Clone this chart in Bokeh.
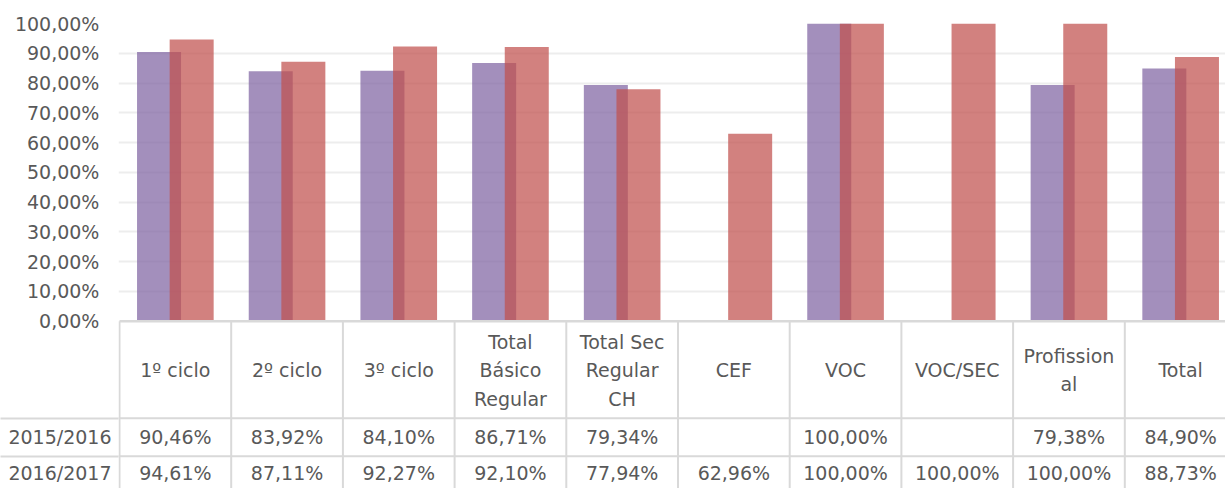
from bokeh.plotting import figure
from bokeh.models import Range1d, FixedTicker, ColumnDataSource
from bokeh.core.properties import value
from bokeh.embed import file_html
from bokeh.resources import INLINE

# ---------------- data ----------------
categories = ["1º ciclo", "2º ciclo", "3º ciclo", "Total Básico Regular",
              "Total Sec Regular CH", "CEF", "VOC", "VOC/SEC", "Profissional", "Total"]
header_labels = ["1º ciclo", "2º ciclo", "3º ciclo", "Total\nBásico\nRegular",
                 "Total Sec\nRegular\nCH", "CEF", "VOC", "VOC/SEC", "Profission\nal", "Total"]
series_names = ["2015/2016", "2016/2017"]
s2015 = [90.46, 83.92, 84.10, 86.71, 79.34, None, 100.00, None, 79.38, 84.90]
s2016 = [94.61, 87.11, 92.27, 92.10, 77.94, 62.96, 100.00, 100.00, 100.00, 88.73]
y_ticks = [0, 10, 20, 30, 40, 50, 60, 70, 80, 90, 100]
y_tick_labels = ["0,00%", "10,00%", "20,00%", "30,00%", "40,00%", "50,00%",
                 "60,00%", "70,00%", "80,00%", "90,00%", "100,00%"]

# ---------------- layout constants ----------------
W, H = 1225, 488
LEFT = 118            # frame left border (px)
TOP = 23              # frame top border (px) -> 100 %
CAT = 111.7           # category width (px)
PXP = 2.977           # px per percentage point
FONT = "DejaVu Sans"
FSIZE = "19px"
TXT = "#595959"
LINE = "#D9D9D9"
PURPLE = "#8064A2"
RED = "#C0504D"
ALPHA = 0.72
OFF = 0.146
BW = 0.394
NBSP = "\u00a0"

n = len(categories)
x_start = -1.0 / CAT
x_end = x_start + (W - LEFT) / CAT
y_end = 100
y_start = 100 - (H - TOP) / PXP


def ty(px):
    """table position given in px below the 0 % line -> y data units"""
    return round(-px / PXP, 2)


def fmt(v):
    return "" if v is None else ("%.2f%%" % v).replace(".", ",")


def nanify(vals):
    return [float("nan") if v is None else v for v in vals]


HEADER_Y = ty(49)
ROW_Y = [ty(116), ty(152)]
ROW_SEP = [ty(97), ty(135)]
BOTTOM = y_start

p = figure(width=W, height=H, output_backend="svg", toolbar_location=None,
           x_range=Range1d(x_start, x_end), y_range=Range1d(y_start, y_end),
           x_axis_location=None, min_border_left=LEFT, min_border_right=0,
           min_border_top=TOP, min_border_bottom=0)
p.outline_line_color = None
p.xgrid.visible = False
p.ygrid.ticker = FixedTicker(ticks=y_ticks[1:])
p.ygrid.grid_line_color = "#EDEDED"
p.ygrid.grid_line_width = 2

# y axis: percentage ticks + data-table row labels; minor ticks draw the row borders
ax = p.yaxis[0]
ax.ticker = FixedTicker(ticks=y_ticks + ROW_Y, minor_ticks=ROW_SEP)
overrides = {t: l + NBSP * 2 for t, l in zip(y_ticks, y_tick_labels)}
overrides.update({t: s for t, s in zip(ROW_Y, series_names)})
ax.major_label_overrides = overrides
ax.axis_line_color = None
ax.major_tick_line_color = None
ax.major_tick_out = 0
ax.major_tick_in = 0
ax.minor_tick_line_color = LINE
ax.minor_tick_line_width = 2
ax.minor_tick_out = LEFT
ax.minor_tick_in = 0
ax.major_label_standoff = 7 - LEFT
ax.major_label_text_font = FONT
ax.major_label_text_font_size = FSIZE
ax.major_label_text_color = TXT

# bars
src1 = ColumnDataSource(dict(x=[i + 0.5 - OFF for i in range(n)], top=nanify(s2015)))
src2 = ColumnDataSource(dict(x=[i + 0.5 + OFF for i in range(n)], top=nanify(s2016)))
p.vbar(x="x", top="top", bottom=0, width=BW, source=src1,
       fill_color=PURPLE, fill_alpha=ALPHA, line_color=None)
p.vbar(x="x", top="top", bottom=0, width=BW, source=src2,
       fill_color=RED, fill_alpha=ALPHA, line_color=None)

# data table borders
p.segment(x0=list(range(n + 1)), y0=[0] * (n + 1), x1=list(range(n + 1)), y1=[BOTTOM] * (n + 1),
          line_color=LINE, line_width=2)
p.segment(x0=[x_start] * 2, y0=ROW_SEP, x1=[x_end] * 2, y1=ROW_SEP,
          line_color=LINE, line_width=2)
p.segment(x0=[0], y0=[0], x1=[x_end], y1=[0], line_color=LINE, line_width=2.5)

# header texts
p.text(x=[i + 0.5 for i in range(n)], y=[HEADER_Y] * n, text=header_labels,
       text_font=value(FONT), text_font_size=FSIZE, text_color=TXT,
       text_align="center", text_baseline="middle", text_line_height=1.3)

# values
for vals, yy in zip([s2015, s2016], ROW_Y):
    p.text(x=[i + 0.5 for i in range(n)], y=[yy] * n, text=[fmt(v) for v in vals],
           text_font=value(FONT), text_font_size=FSIZE, text_color=TXT,
           text_align="center", text_baseline="middle")

open("out.html", "w").write(file_html(p, INLINE))
